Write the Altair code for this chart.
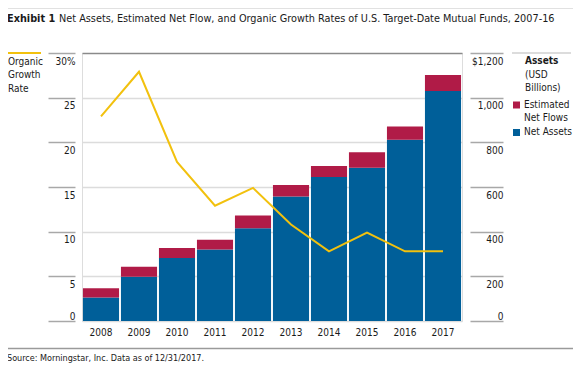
import altair as alt
import pandas as pd

years = ["2008", "2009", "2010", "2011", "2012", "2013", "2014", "2015", "2016", "2017"]
net_assets = [105, 198, 282, 320, 415, 558, 645, 686, 812, 1030]
net_flows = [42, 45, 45, 44, 57, 51, 49, 70, 59, 72]
growth_rate = [22.9, 27.9, 17.8, 12.9, 14.9, 10.8, 7.8, 9.9, 7.8, 7.8]
pct_ticks = [0, 5, 10, 15, 20, 25, 30]
asset_ticks = [0, 200, 400, 600, 800, 1000, 1200]

BLUE = "#005F99"
RED = "#B01B47"
YELLOW = "#F2C10E"
FONT = "DejaVu Sans Condensed, Roboto, sans-serif"
TXT = "#1a1a1a"

rows = []
for y, a, f in zip(years, net_assets, net_flows):
    rows.append({"year": y, "series": "Net Assets", "value": a, "ord": 0})
    rows.append({"year": y, "series": "Estimated Net Flows", "value": f, "ord": 1})
df_bars = pd.DataFrame(rows)
df_line = pd.DataFrame({"year": years, "rate": growth_rate})

xscale = alt.Scale(paddingInner=0.05, paddingOuter=0.025)
xaxis = alt.Axis(title=None, domain=False, ticks=False, labelAngle=0, labelPadding=6,
                 labelFontSize=10, labelColor=TXT, labelFont=FONT)

bars = alt.Chart(df_bars).mark_bar().encode(
    x=alt.X("year:O", scale=xscale, axis=xaxis),
    y=alt.Y("value:Q", stack="zero", scale=alt.Scale(domain=[0, 1200], nice=False),
            axis=alt.Axis(orient="right", values=asset_ticks, title=None,
                          labelExpr="datum.value == 1200 ? '$1,200' : format(datum.value, ',')",
                          offset=8, domain=False, ticks=True, tickSize=33, tickColor="#a8a8a8",
                          tickWidth=1.5, labelPadding=0, labelAlign="right", labelBaseline="middle",
                          labelOffset={"condition": {"test": "datum.value == 0", "value": -5}, "value": 8},
                          labelFlush=False, labelOverlap=False, grid=False,
                          labelFontSize=10, labelColor=TXT, labelFont=FONT)),
    color=alt.Color("series:N", scale=alt.Scale(domain=["Estimated Net Flows", "Net Assets"],
                                                range=[RED, BLUE]), legend=None),
    order=alt.Order("ord:Q", sort="ascending"),
)

line = alt.Chart(df_line).mark_line(color=YELLOW, strokeWidth=2).encode(
    x=alt.X("year:O", scale=xscale, axis=xaxis),
    y=alt.Y("rate:Q", scale=alt.Scale(domain=[0, 30], nice=False),
            axis=alt.Axis(orient="left", values=pct_ticks, title=None,
                          labelExpr="datum.value == 30 ? '30%' : datum.label",
                          offset=7, domain=False, ticks=True, tickSize=27, tickColor="#a8a8a8",
                          tickWidth=1.5, labelPadding=-27, labelAlign="right", labelBaseline="middle",
                          labelOffset={"condition": {"test": "datum.value == 0", "value": -5}, "value": 8},
                          labelFlush=False, labelOverlap=False, grid=True,
                          gridColor={"condition": {"test": "datum.value == 30", "value": "#8a8a8a"},
                                     "value": "#dcdcdc"},
                          gridWidth=1.5,
                          labelFontSize=10, labelColor=TXT, labelFont=FONT)),
)

one = alt.Data(values=[{}])


def txt(s, x, y, size=10, weight="normal", align="left"):
    return alt.Chart(one).mark_text(text=s, align=align, baseline="middle", fontSize=size,
                                    fontWeight=weight, font=FONT, color=TXT).encode(
        x=alt.value(x), y=alt.value(y))


def rule(x1, x2, y, color, w):
    return alt.Chart(one).mark_rule(color=color, strokeWidth=w).encode(
        x=alt.value(x1), x2=alt.value(x2), y=alt.value(y))


def box(x1, x2, y1, y2, color):
    return alt.Chart(one).mark_rect(color=color).encode(
        x=alt.value(x1), x2=alt.value(x2), y=alt.value(y1), y2=alt.value(y2))


annotations = [
    rule(-82, 491, -45.5, "#c4c4c4", 2),
    txt("Exhibit 1", -75, -34.5, size=10.8, weight="bold"),
    txt("Net Assets, Estimated Net Flow, and Organic Growth Rates of U.S. Target-Date Mutual Funds, 2007-16",
        -23, -34.5, size=10.8),
    rule(-75, -41, 0, YELLOW, 2),
    txt("Organic", -74, 9),
    txt("Growth", -74, 22),
    txt("Rate", -74, 36),
    rule(430, 489, 0, "#d0d0d0", 1.5),
    txt("Assets", 443, 8, weight="bold"),
    txt("(USD", 443, 22),
    txt("Billions)", 443, 35),
    box(431, 438, 48.5, 55.5, RED),
    txt("Estimated", 442, 52),
    txt("Net Flows", 442, 65),
    box(431, 438, 76, 83, BLUE),
    txt("Net Assets", 442, 79),
    rule(-75, 499, 295.5, "#9a9a9a", 1.5),
    txt("Source: Morningstar, Inc. Data as of 12/31/2017.", -75, 304.5, size=9),
]

chart = alt.layer(bars, line, *annotations).resolve_scale(y="independent").properties(
    width=380, height=268,
    autosize=alt.AutoSizeParams(type="none"),
    padding={"left": 74, "top": 45, "right": 111, "bottom": 47},
).configure_view(stroke=None).configure(font=FONT)

chart.save("out.html", embed_options={"renderer": "svg", "actions": False})
